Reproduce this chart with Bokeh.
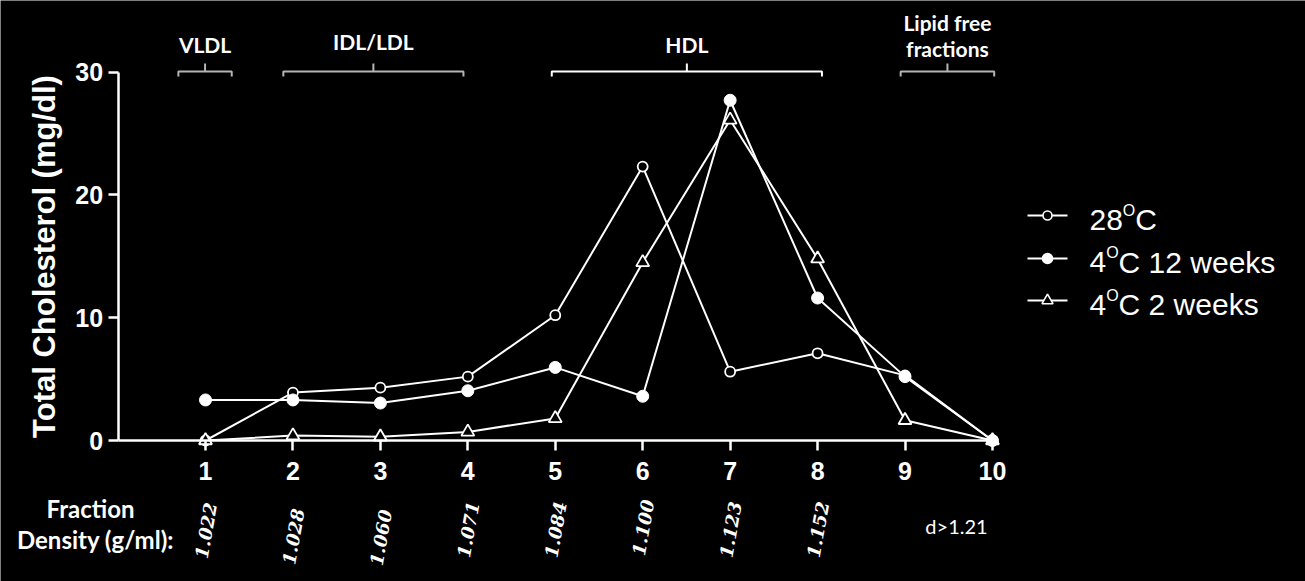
import math
from bokeh.plotting import figure
from bokeh.models import LinearAxis, FixedTicker
from bokeh.core.properties import value
from bokeh.embed import file_html
from bokeh.resources import INLINE

# ---------------- data ----------------
fractions = [1, 2, 3, 4, 5, 6, 7, 8, 9, 10]
chol_28C = [0, 3.9, 4.3, 5.2, 10.2, 22.3, 5.6, 7.1, 5.3, 0]
chol_4C_12w = [3.3, 3.3, 3.05, 4.05, 5.95, 3.6, 27.7, 11.6, 5.2, 0]
chol_4C_2w = [0, 0.4, 0.3, 0.7, 1.8, 14.5, 26.1, 14.8, 1.65, 0]
y_ticks = [0, 10, 20, 30]
x_ticks = fractions

density_fraction = [1, 2, 3, 4, 5, 6, 7, 8]
density_labels = ["1.022", "1.028", "1.060", "1.071", "1.084", "1.100", "1.123", "1.152"]
lipid_free_density = "d>1.21"

bracket_names = ["VLDL", "IDL/LDL", "HDL", "Lipid free"]
bracket_start = [0.69, 1.89, 4.96, 8.95]
bracket_end = [1.30, 3.95, 8.05, 10.02]

legend_prefix = ["28", "4", "4"]
legend_suffix = ["C", "C 12 weeks", "C 2 weeks"]

# ---------------- layout helpers (pixel <-> data) ----------------
W, H = 1305, 581
X0PX, XS = 117.56, 87.44
Y0PX, YS = 440.0, 12.283


def dx(px):
    return (px - X0PX) / XS


def dy(py):
    return (Y0PX - py) / YS


p = figure(width=W, height=H, output_backend="svg", toolbar_location=None,
           x_range=(dx(0), dx(W)), y_range=(dy(H), dy(0)),
           x_axis_location=None, y_axis_location=None, title=None,
           min_border=0, tools="")
p.background_fill_color = "black"
p.border_fill_color = "black"
p.outline_line_color = None
p.xgrid.visible = False
p.ygrid.visible = False

WHITE = "white"
GRAY = "#b4b4b4"

# axes
yax = LinearAxis(fixed_location=0, bounds=(0, 30), ticker=FixedTicker(ticks=y_ticks))
yax.axis_line_color = WHITE
yax.axis_line_width = 2.5
yax.major_tick_line_color = WHITE
yax.major_tick_line_width = 2.5
yax.major_tick_out = 10
yax.major_tick_in = 0
yax.minor_tick_line_color = None
yax.major_label_text_color = WHITE
yax.major_label_text_font = "Liberation Sans"
yax.major_label_text_font_style = "bold"
yax.major_label_text_font_size = "25px"
yax.major_label_standoff = 5
yax.axis_label = "Total Cholesterol (mg/dl)"
yax.axis_label_text_color = WHITE
yax.axis_label_text_font = "Liberation Sans"
yax.axis_label_text_font_style = "bold"
yax.axis_label_text_font_size = "31px"
yax.axis_label_standoff = 11
p.add_layout(yax, "left")

xax = LinearAxis(fixed_location=0, bounds=(0, 10.05), ticker=FixedTicker(ticks=x_ticks))
xax.axis_line_color = WHITE
xax.axis_line_width = 2.5
xax.major_tick_line_color = WHITE
xax.major_tick_line_width = 2.5
xax.major_tick_out = 10
xax.major_tick_in = 0
xax.minor_tick_line_color = None
xax.major_label_text_color = WHITE
xax.major_label_text_font = "Liberation Sans"
xax.major_label_text_font_style = "bold"
xax.major_label_text_font_size = "25px"
xax.major_label_standoff = 11
p.add_layout(xax, "below")

# series lines
for ys in (chol_28C, chol_4C_12w, chol_4C_2w):
    p.line(fractions, ys, line_color=WHITE, line_width=2)

p.scatter(fractions, chol_28C, marker="circle", size=10, line_color=WHITE,
          line_width=1.8, fill_color="black")
p.scatter(fractions, chol_4C_2w, marker="triangle", size=13, line_color=WHITE,
          line_width=1.8, fill_color="black")
p.scatter(fractions, chol_4C_12w, marker="circle", size=12, line_color=WHITE,
          line_width=1, fill_color=WHITE)

# brackets on top
bracket_colors = [GRAY, GRAY, WHITE, GRAY]
y_line = dy(71)
y_hook = dy(76)
y_tick = dy(63)
for s, e, c in zip(bracket_start, bracket_end, bracket_colors):
    m = (s + e) / 2
    p.line([s, s, e, e], [y_hook, y_line, y_line, y_hook], line_color=c, line_width=2)
    p.line([m, m], [y_line, y_tick], line_color=c, line_width=2)

label_font = value("Lato")
bracket_label_mid = [43.5, 41, 43.5, 22]
for s, e, name, b in zip(bracket_start, bracket_end, bracket_names, bracket_label_mid):
    p.text([(s + e) / 2], [dy(b)], text=[name], text_color=WHITE, text_font=label_font,
           text_font_style="bold", text_font_size="21px", text_align="center",
           text_baseline="middle")
p.text([(bracket_start[3] + bracket_end[3]) / 2], [dy(48)], text=["fractions"],
       text_color=WHITE, text_font=label_font, text_font_style="bold",
       text_font_size="21px", text_align="center", text_baseline="middle")

# fraction density labels
p.text([dx(90)], [dy(507.5)], text=["Fraction"], text_color=WHITE, text_font=label_font,
       text_font_style="bold", text_font_size="24px", text_align="center",
       text_baseline="middle")
p.text([dx(95)], [dy(538.5)], text=["Density (g/ml):"], text_color=WHITE,
       text_font=label_font, text_font_style="bold", text_font_size="24px",
       text_align="center", text_baseline="middle")

density_center_py = [530, 536, 537, 529, 529, 527, 529, 529]
p.text(density_fraction, [dy(v) for v in density_center_py], text=density_labels,
       angle=math.radians(80), text_color=WHITE, text_font=value("DejaVu Serif"),
       text_font_style="bold italic", text_font_size="18px", text_align="center",
       text_baseline="middle")
p.text([dx(956)], [dy(525)], text=[lipid_free_density], text_color=WHITE,
       text_font=label_font, text_font_size="20px", text_align="center",
       text_baseline="middle")

# legend
row_py = [215, 258, 300]
text_mid_py = [219, 261.5, 304]
markers = [("circle", 9, "black"), ("circle", 10, WHITE), ("triangle", 11, "black")]
for r in range(3):
    p.line([dx(1027), dx(1067)], [dy(row_py[r])] * 2, line_color=WHITE, line_width=2)
    mk, sz, fc = markers[r]
    p.scatter([dx(1047)], [dy(row_py[r])], marker=mk, size=sz, line_color=WHITE,
              line_width=1.6, fill_color=fc)
    pre_w = 30 * 0.556 * len(legend_prefix[r])
    p.text([dx(1089)], [dy(text_mid_py[r])], text=[legend_prefix[r]], text_color=WHITE,
           text_font=value("Liberation Sans"), text_font_size="30px",
           text_baseline="middle")
    p.text([dx(1089 + pre_w)], [dy(text_mid_py[r] - 9.5)], text=["O"], text_color=WHITE,
           text_font=value("Liberation Sans"), text_font_size="16px",
           text_baseline="middle")
    p.text([dx(1089 + pre_w + 12.4)], [dy(text_mid_py[r])], text=[legend_suffix[r]],
           text_color=WHITE, text_font=value("Liberation Sans"), text_font_size="30px",
           text_baseline="middle")

open("out.html", "w").write(file_html(p, INLINE))
